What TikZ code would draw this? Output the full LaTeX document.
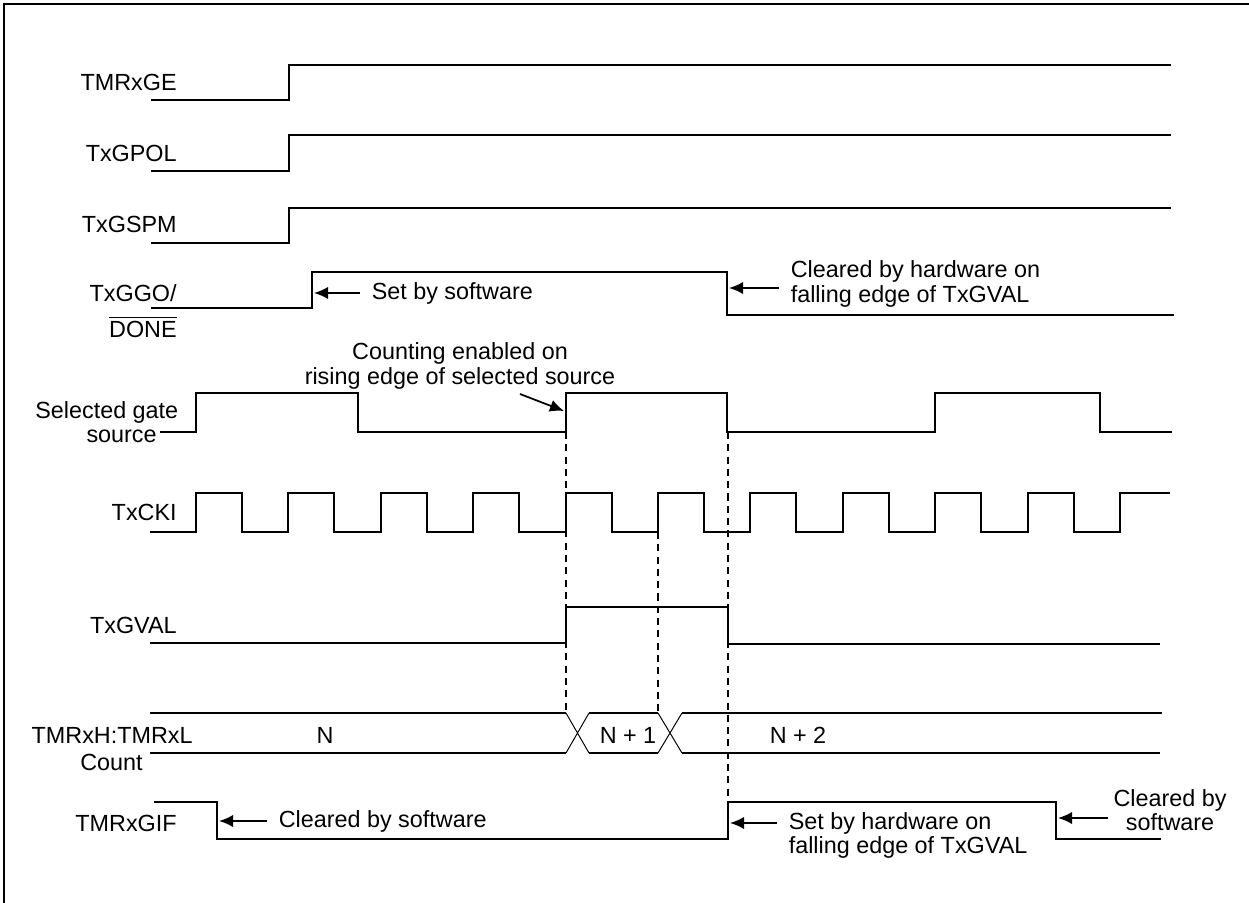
\documentclass[tikz,border=0pt]{standalone}
\usepackage{fontspec}
\setmainfont{Liberation Sans}
\usetikzlibrary{arrows.meta,positioning}

\newcommand{\sigsize}{\fontsize{13.3pt}{14pt}\selectfont}
\newcommand{\barred}[1]{\setbox0\hbox{#1}\vbox{\hrule height 1pt width \wd0 \kern 1.5pt \box0}}

\tikzset{
  every node/.style={font=\sigsize},
  wave/.style={line width=1.15pt},
  cross/.style={line width=0.55pt},
  guide/.style={line width=1.1pt, dash pattern=on 4pt off 3pt},
  note/.style={-{Latex[length=8pt,width=7pt]}, line width=1pt},
  sig/.style={inner sep=0pt, text height=9.5pt, text depth=0pt, anchor=east},
  txt/.style={inner xsep=6.5pt, inner ysep=0pt, align=left, anchor=west}
}

\begin{document}
\begin{tikzpicture}[x=0.02cm,y=-0.02cm]
  \useasboundingbox (0,0) rectangle (1249,903);
  % frame, cut at right and bottom
  \draw[wave] (4,903) -- (4,4) -- (1249,4);

  % signal names
  \node[sig] (ge) at (177,82) {TMRxGE};
  \node[sig] (gpol) at (177,153) {TxGPOL};
  \node[sig] (gspm) at (177,224) {TxGSPM};
  \node[sig] (ggo) at (177,293) {TxGGO/};
  \node[sig] (done) at (177,329) {\barred{DONE}};
  \node[sig,anchor=west] (gsel) at (35,410) {Selected gate};
  \node[sig] (gsrc) at (157,434) {source};
  \node[sig] (cki) at (177,512) {TxCKI};
  \node[sig] (gval) at (177,625) {TxGVAL};
  \node[sig] (cnt) at (193,735) {TMRxH:TMRxL};
  \node[sig] (cntb) at (143,762) {Count};
  \node[sig] (gif) at (177,823) {TMRxGIF};

  % control bits
  \draw[wave] (151,100) -- (289,100) -- (289,65) -- (1171,65);
  \draw[wave] (151,171) -- (289,171) -- (289,135) -- (1171,135);
  \draw[wave] (151,243) -- (289,243) -- (289,208) -- (1171,208);
  \draw[wave] (151,308) -- (312,308) -- (312,272) -- (727,272) -- (727,315) -- (1174,315);

  % gate source
  \draw[wave] (160,432) -- (196,432) -- (196,393) -- (358,393) -- (358,432)
    -- (566,432) -- (566,393) -- (727,393) -- (727,432) -- (935,432)
    -- (935,393) -- (1100,393) -- (1100,432) -- (1172,432);

  % clock
  \draw[wave] (150,532) \foreach \k in {0,...,9} {
      -- ({196+92.4*\k},532) -- ({196+92.4*\k},493)
      -- ({242+92.4*\k},493) -- ({242+92.4*\k},532) }
    -- (1120,532) -- (1120,493) -- (1170,493);

  % gate value
  \draw[wave] (150,643) -- (566,643) -- (566,607) -- (728,607) -- (728,644) -- (1160,644);

  % counter bus
  \draw[wave] (150,713) -- (566,713) (589,713) -- (658,713) (682,713) -- (1162,713);
  \draw[wave] (150,753) -- (566,753) (589,753) -- (658,753) (682,753) -- (1160,753);
  \draw[cross] (566,713) -- (589,753) (566,753) -- (589,713);
  \draw[cross] (658,713) -- (682,753) (658,753) -- (682,713);
  \node[sig,anchor=center] (vn) at (325,735) {N};
  \node[sig,anchor=center] (vn1) at (628,735) {N + 1};
  \node[sig,anchor=center] (vn2) at (798,735) {N + 2};

  % interrupt flag
  \draw[wave] (154,802) -- (217,802) -- (217,839) -- (728,839) -- (728,802)
    -- (1056,802) -- (1056,839) -- (1161,839);

  % edge guides
  \draw[guide] (566,432) -- (566,713);
  \draw[guide] (658,532) -- (658,713);
  \draw[guide] (728,432) -- (728,802);

  % notes
  \coordinate (ggoset) at (314,293);
  \node[txt] (setsw) at (360,293) {Set by software};
  \draw[note] (setsw.west) -- (ggoset);

  \coordinate (ggoclr) at (729,288);
  \node[txt] (clrhw) at (779,284) {Cleared by hardware on\\falling edge of TxGVAL};
  \draw[note] (ggoclr -| clrhw.west) -- (ggoclr);

  \node[align=center, inner sep=0pt] (cnten) at (460,366) {Counting enabled on\\rising edge of selected source};
  \coordinate (cntfrom) at (520,394);
  \coordinate (cntedge) at (564,411);
  \draw[note] (cntfrom) -- (cntedge);

  \coordinate (gifclr) at (219,821);
  \node[txt] (clrsw) at (267,821) {Cleared by software};
  \draw[note] (clrsw.west) -- (gifclr);

  \coordinate (gifset) at (730,823);
  \node[txt, anchor=north west] (sethw) at (777,812) {Set by hardware on\\falling edge of TxGVAL};
  \draw[note] (gifset -| sethw.west) -- (gifset);

  \coordinate (gifclr2) at (1058,818);
  \node[align=center, inner xsep=3pt, inner ysep=0pt] (clrsw2) at (1170,810) {Cleared by\\software};
  \draw[note] (gifclr2 -| clrsw2.west) -- (gifclr2);
\end{tikzpicture}
\end{document}
